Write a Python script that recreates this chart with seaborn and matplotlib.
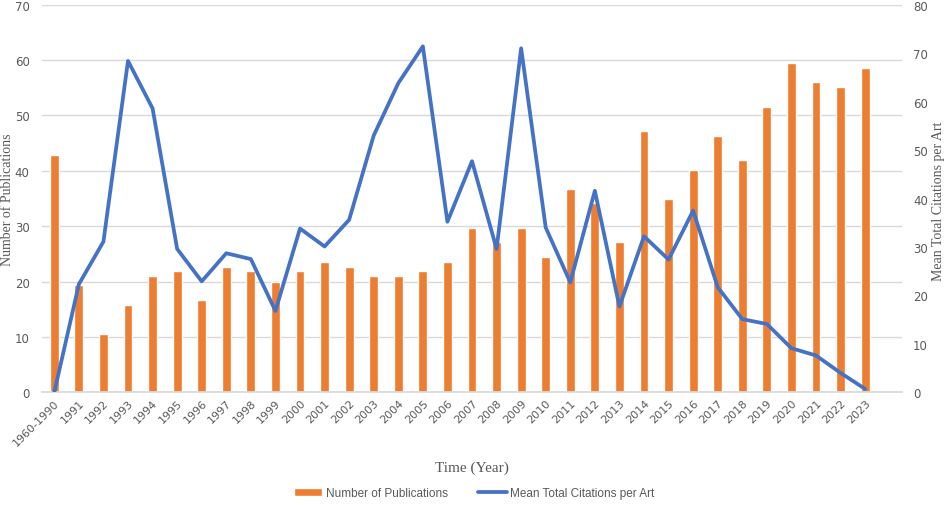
import numpy as np
import pandas as pd
import matplotlib
matplotlib.use("Agg")
import matplotlib.pyplot as plt
import seaborn as sns

# ---- data ----
years = ["1960-1990"] + [str(y) for y in range(1991, 2024)]
publications = [42.9, 19.3, 10.5, 15.8, 21.0, 21.9, 16.6, 22.7, 21.9, 20.0,
                21.9, 23.6, 22.7, 21.0, 21.0, 21.9, 23.6, 29.7, 27.1, 29.7,
                24.5, 36.7, 34.2, 27.1, 47.2, 34.9, 40.2, 46.3, 41.9, 51.6,
                59.5, 56.0, 55.1, 58.6]
citations = [0.0, 22.3, 31.1, 68.4, 58.6, 29.6, 22.9, 28.7, 27.5, 16.8,
             33.8, 30.1, 35.6, 53.0, 63.8, 71.4, 35.2, 47.7, 29.6, 71.0,
             34.0, 22.7, 41.6, 17.7, 32.2, 27.4, 37.5, 21.7, 15.1, 14.1,
             9.1, 7.6, 4.0, 0.7]

df = pd.DataFrame({"year": years, "pubs": publications, "cites": citations})

ORANGE = "#ED7D31"
BLUE = "#4472C4"
TICK = "#595959"

sns.set_theme(style="white")
plt.rcParams["font.family"] = ["DejaVu Sans"]

fig = plt.figure(figsize=(9.48, 5.06), dpi=100)
ax1 = fig.add_axes([42 / 948, 1 - 393.3 / 506, 860 / 948, 387.6 / 506])

sns.barplot(data=df, x="year", y="pubs", color=ORANGE, width=0.36,
            saturation=1, ax=ax1, label="Number of Publications")
ax1.set_ylim(0, 70)
ax1.set_yticks(range(0, 71, 10))
ax1.yaxis.grid(True, color="#D9D9D9", linewidth=1)
ax1.set_axisbelow(True)
ax1.set_xlim(-0.5, 34.5)

ax2 = ax1.twinx()
sns.lineplot(data=df, x="year", y="cites", color=BLUE, linewidth=2.7,
             sort=False, ax=ax2, label="Mean Total Citations per Art")
ax2.set_ylim(0, 80)
ax2.set_yticks(range(0, 81, 10))
ax2.set_xlim(-0.5, 34.5)

for ax in (ax1, ax2):
    for s in ax.spines.values():
        s.set_visible(False)
    ax.tick_params(axis="both", length=0, labelsize=8.5, colors=TICK)

ax1.tick_params(axis="y", pad=9)
ax2.tick_params(axis="y", pad=8)
ax1.spines["bottom"].set_visible(True)
ax1.spines["bottom"].set_color("#D9D9D9")

plt.setp(ax1.get_xticklabels(), rotation=45, ha="right",
         rotation_mode="anchor", fontsize=8)

serif = ["Liberation Serif", "DejaVu Serif"]
ax1.set_xlabel("Time (Year)", family=serif, fontsize=11, color=TICK)
ax1.xaxis.set_label_coords(0.5, -0.177)
ax1.set_ylabel("Number of Publications", family=serif, fontsize=10,
               color=TICK, va="center")
ax1.yaxis.set_label_coords((8 - 42) / 860, 0.5)
ax2.set_ylabel("Mean Total Citations per Art", family=serif, fontsize=10,
               color=TICK, rotation=90, va="center")
ax2.yaxis.set_label_coords((939 - 42) / 860, 0.495)

# combined legend at the bottom
h1, l1 = ax1.get_legend_handles_labels()
h2, l2 = ax2.get_legend_handles_labels()
for ax in (ax1, ax2):
    if ax.get_legend():
        ax.get_legend().remove()
leg = fig.legend(h1 + h2, l1 + l2, loc="center", bbox_to_anchor=(0.5, 1 - 494 / 506),
                 ncol=2, frameon=False, handlelength=2.4, columnspacing=2.6,
                 handletextpad=0.3,
                 prop={"family": ["Liberation Sans Narrow", "Liberation Sans"], "size": 8.5})
for t in leg.get_texts():
    t.set_color(TICK)

fig.savefig("out.png", dpi=100)
